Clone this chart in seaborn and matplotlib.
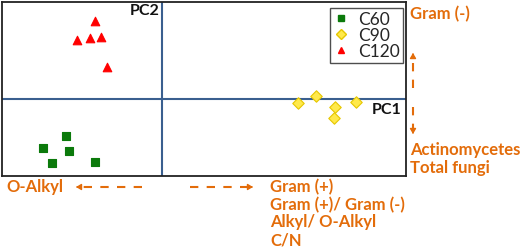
import matplotlib
matplotlib.use("Agg")
import matplotlib.pyplot as plt
import seaborn as sns
import pandas as pd
from matplotlib.lines import Line2D

# ---- data ----
groups = ["C60", "C90", "C120"]
c60_pc1 = [-2.41, -2.97, -2.32, -2.75, -1.67]
c60_pc2 = [-1.48, -1.97, -2.07, -2.55, -2.51]
c90_pc1 = [3.41, 3.84, 4.32, 4.29, 4.86]
c90_pc2 = [-0.15, 0.13, -0.31, -0.75, -0.13]
c120_pc1 = [-1.68, -2.13, -1.81, -1.53, -1.38]
c120_pc2 = [3.13, 2.35, 2.43, 2.49, 1.29]

df = pd.DataFrame({
    "PC1": c60_pc1 + c90_pc1 + c120_pc1,
    "PC2": c60_pc2 + c90_pc2 + c120_pc2,
    "group": ["C60"] * 5 + ["C90"] * 5 + ["C120"] * 5,
})

sns.set_theme(style="white")
plt.rcParams["font.family"] = ["Lato", "DejaVu Sans"]

W, H = 520, 250
fig = plt.figure(figsize=(W / 100, H / 100), dpi=100)
L, R, T, B = 2, 406, 2, 176
ax = fig.add_axes([L / W, 1 - B / H, (R - L) / W, (B - T) / H])

palette = {"C60": "#0B7A0B", "C90": "#FFE94A", "C120": "#FF0000"}
markers = {"C60": "s", "C90": "D", "C120": "^"}
sizes = {"C60": 30, "C90": 34, "C120": 38}
edges = {"C60": "#0B7A0B", "C90": "#E6C700", "C120": "#FF0000"}

ax.axhline(0, color="#3A5F8F", lw=1.5, zorder=1)
ax.axvline(0, color="#3A5F8F", lw=1.5, zorder=1)

for g in groups:
    sub = df[df.group == g]
    sns.scatterplot(data=sub, x="PC1", y="PC2", marker=markers[g], color=palette[g],
                    s=sizes[g], edgecolor=edges[g], linewidth=0.8, ax=ax, label=g, zorder=3)

ax.set_xlim(-4.0, 6.1)
ax.set_ylim(-3.08, 3.88)
ax.set_xticks([])
ax.set_yticks([])
ax.set_xlabel("")
ax.set_ylabel("")
for s in ax.spines.values():
    s.set_color("#222222")
    s.set_linewidth(1.3)

handles = [Line2D([0], [0], marker=markers[g], ls="", color=palette[g],
                  markeredgecolor=edges[g], markersize=5) for g in groups]
leg = ax.legend(handles, groups, loc="upper right", bbox_to_anchor=(0.993, 0.965),
                frameon=True, fancybox=False, edgecolor="#222222", fontsize=12.5,
                handlelength=0.8, handletextpad=0.6, borderpad=0.2, labelspacing=0.0,
                borderaxespad=0)
leg.get_frame().set_linewidth(1.0)

ax.text(-0.05, 3.52, "PC2", ha="right", va="center", fontsize=11.5, fontweight="bold", color="#111111")
ax.text(5.98, -0.44, "PC1", ha="right", va="center", fontsize=11.5, fontweight="bold", color="#111111")

orange = "#E36C0A"

def ftxt(x, y, s):
    fig.text(x / W, 1 - y / H, s, ha="left", va="center", fontsize=12,
             fontweight="bold", color=orange)

ftxt(410, 14, "Gram (-)")
ftxt(410, 150, "Actinomycetes")
ftxt(410, 168, "Total fungi")
ftxt(6, 187, "O-Alkyl")
ftxt(270, 187, "Gram (+)")
ftxt(270, 205, "Gram (+)/ Gram (-)")
ftxt(270, 222, "Alkyl/ O-Alkyl")
ftxt(270, 240, "C/N")

def darrow(x0, y0, x1, y1):
    fig.add_artist(Line2D([x0 / W, x1 / W], [1 - y0 / H, 1 - y1 / H],
                          transform=fig.transFigure, color=orange, lw=1.5,
                          ls=(0, (4, 4))))
    dx = (x1 - x0)
    dy = (y1 - y0)
    n = (dx * dx + dy * dy) ** 0.5
    ux, uy = dx / n, dy / n
    fig.add_artist(matplotlib.patches.FancyArrowPatch(
        ((x1 - ux * 4) / W, 1 - (y1 - uy * 4) / H), ((x1 + ux * 1) / W, 1 - (y1 + uy * 1) / H),
        transform=fig.transFigure, arrowstyle="-|>,head_length=3,head_width=1.8",
        color=orange, lw=1, mutation_scale=1))

darrow(142, 187, 77, 187)
darrow(190, 187, 252, 187)
darrow(413, 88, 413, 54)
darrow(413, 107, 413, 133)

fig.savefig("out.png", dpi=100)
